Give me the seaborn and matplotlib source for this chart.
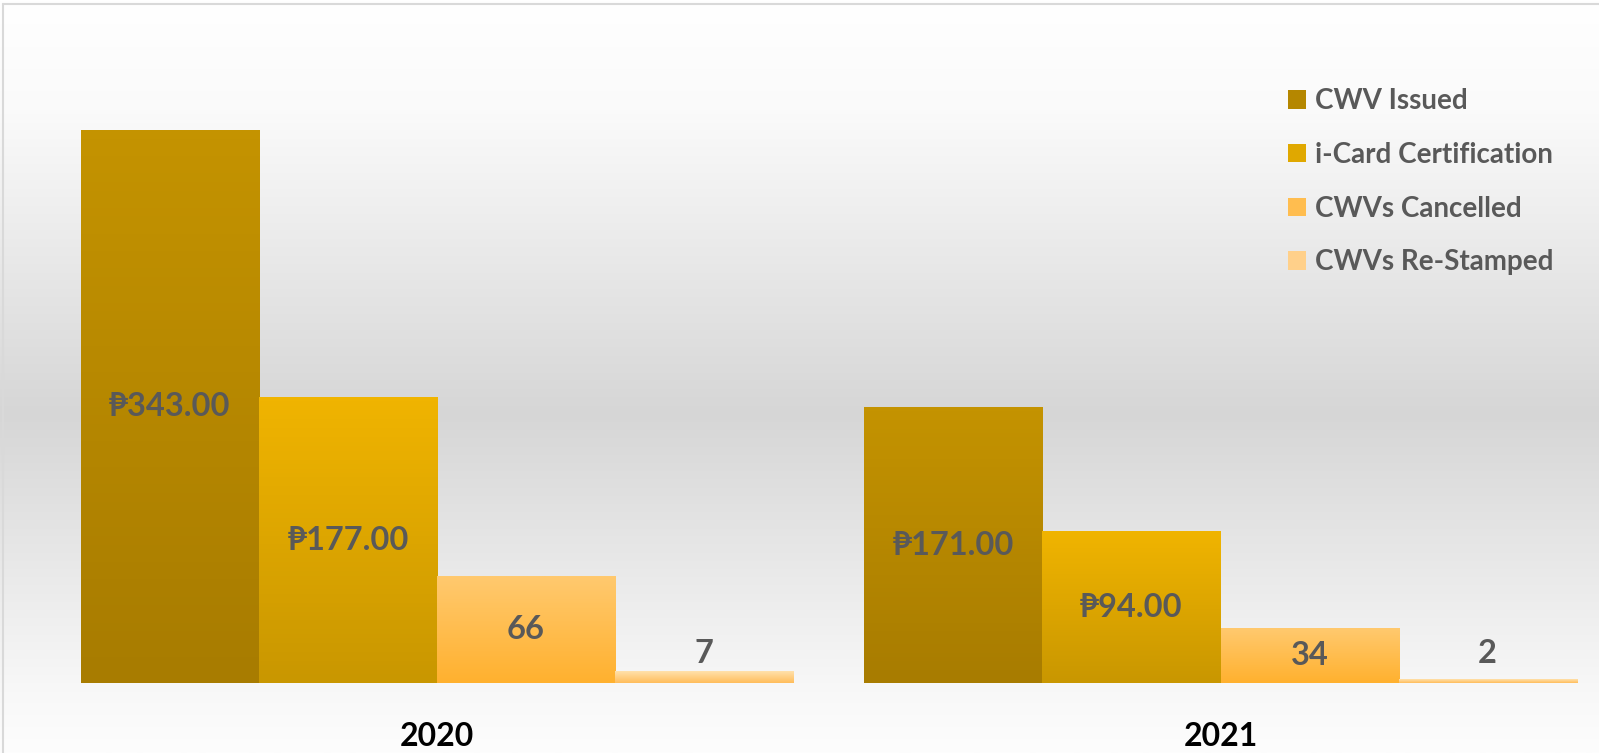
import numpy as np
import pandas as pd
import matplotlib.pyplot as plt
import seaborn as sns
from matplotlib.colors import LinearSegmentedColormap
from matplotlib.patches import Patch
from matplotlib.lines import Line2D

# data
years = ["2020", "2021"]
series = ["CWV Issued", "i-Card Certification", "CWVs Cancelled", "CWVs Re-Stamped"]
cwv_issued = [343, 171]
icard_cert = [177, 94]
cwv_cancelled = [66, 34]
cwv_restamped = [7, 2]
label_fmt = ["₱{:.2f}", "₱{:.2f}", "{:.0f}", "{:.0f}"]

# excel-like vertical gradients (top / bottom colour of each series)
grad_top = ["#c49300", "#f0b400", "#ffc96e", "#ffe1ab"]
grad_bottom = ["#a87c00", "#c99700", "#ffb12f", "#ffbd5c"]
legend_col = ["#b58700", "#e0a800", "#ffbd4f", "#ffd08a"]

rows = []
for name, vals in zip(series, [cwv_issued, icard_cert, cwv_cancelled, cwv_restamped]):
    for yr, v in zip(years, vals):
        rows.append({"year": yr, "series": name, "value": v})
df = pd.DataFrame(rows)

W, H, DPI = 1599, 753, 100
sns.set_style("white")
plt.rcParams["font.family"] = ["Lato", "DejaVu Sans"]
fig = plt.figure(figsize=(W / DPI, H / DPI), dpi=DPI)

# background: white -> grey -> white
bg = fig.add_axes([0, 0, 1, 1], zorder=0)
bg_cmap = LinearSegmentedColormap.from_list(
    "bg", [(0, "#ffffff"), (0.15, "#fafafa"), (0.55, "#d6d6d6"),
           (0.92, "#f8f8f8"), (1, "#fdfdfd")])
bg.imshow(np.linspace(0, 1, 256).reshape(-1, 1), cmap=bg_cmap, aspect="auto",
          extent=[0, 1, 0, 1], origin="upper")
bg.axis("off")

base_px = 683
ax = fig.add_axes([0, (H - base_px) / H, 1, base_px / H], zorder=1)
ax.patch.set_alpha(0)
sns.barplot(data=df, x="year", y="value", hue="series", order=years,
            hue_order=series, width=0.909, gap=0, errorbar=None,
            saturation=1, legend=False, ax=ax)

lab_kw = dict(ha="center", va="center", fontsize=23.5, fontweight="bold",
              color="#595959")
for cont, top, bot, fmt in zip(ax.containers, grad_top, grad_bottom, label_fmt):
    cmap = LinearSegmentedColormap.from_list("g", [bot, top])
    for bar, val in zip(cont, cont.datavalues):
        x0, y0 = bar.get_x(), bar.get_y()
        w, h = bar.get_width(), bar.get_height()
        bar.set_facecolor("none")
        bar.set_edgecolor("none")
        ax.imshow(np.linspace(0, 1, 64).reshape(-1, 1), cmap=cmap, origin="lower",
                  extent=[x0, x0 + w, y0, y0 + h], aspect="auto", zorder=2)
        if h > 20:
            ax.text(x0 + w / 2, y0 + h / 2, fmt.format(val), zorder=3, **lab_kw)
        else:
            ax.annotate(fmt.format(val), (x0 + w / 2, 0), xytext=(0, 21),
                        textcoords="offset points", zorder=3, **lab_kw)

ax.set_xlim(-437 / 783.5, (W - 437) / 783.5)
ax.set_ylim(0, base_px / 1.612)
ax.set_yticks([])
ax.set_xlabel("")
ax.set_ylabel("")
sns.despine(ax=ax, left=True, bottom=True)
ax.tick_params(axis="x", length=0, pad=28)
for t in ax.get_xticklabels():
    t.set_fontsize(23)
    t.set_fontweight("bold")
    t.set_color("black")

handles = [Patch(facecolor=c, edgecolor="none") for c in legend_col]
leg = ax.legend(handles, series, loc="upper left",
                bbox_to_anchor=(1288 / W, 1 - 88 / H), bbox_transform=fig.transFigure,
                frameon=False, borderpad=0, borderaxespad=0,
                handlelength=0.65, handleheight=0.65, handletextpad=0.33,
                labelspacing=1.0, prop=dict(size=20, weight="bold"))
for t in leg.get_texts():
    t.set_color("#595959")

# thin chart-area border
fig.add_artist(Line2D([3 / W, 3 / W], [0, 1 - 4 / H], transform=fig.transFigure,
                      color="#d9d9d9", lw=1.5))
fig.add_artist(Line2D([3 / W, 1], [1 - 4 / H, 1 - 4 / H], transform=fig.transFigure,
                      color="#d9d9d9", lw=1.5))

fig.savefig("out.png", dpi=DPI)
